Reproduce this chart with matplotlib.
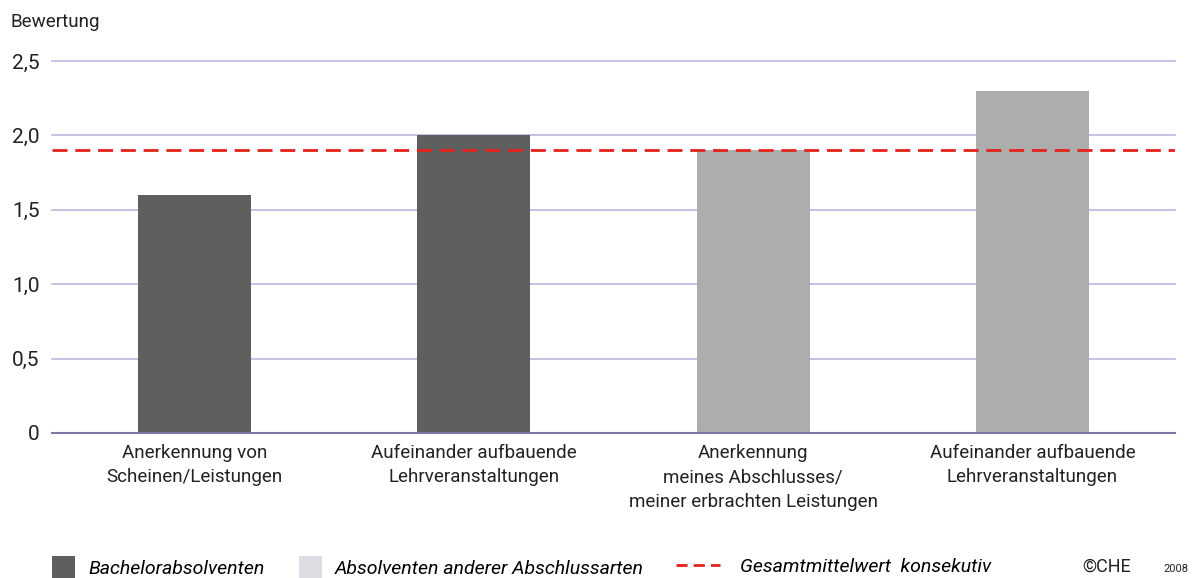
import matplotlib.pyplot as plt
from matplotlib.patches import Patch
from matplotlib.lines import Line2D

# ============================================================
# DATA
# ============================================================
categories = [
    "Anerkennung von\nScheinen/Leistungen",
    "Aufeinander aufbauende\nLehrveranstaltungen",
    "Anerkennung\nmeines Abschlusses/\nmeiner erbrachten Leistungen",
    "Aufeinander aufbauende\nLehrveranstaltungen",
]
values = [1.6, 2.0, 1.9, 2.3]
groups = ["bachelor", "bachelor", "andere", "andere"]
mean_konsekutiv = 1.9
yticks = [0, 0.5, 1.0, 1.5, 2.0, 2.5]
ytick_labels = ["0", "0,5", "1,0", "1,5", "2,0", "2,5"]
legend_labels = ["Bachelorabsolventen", "Absolventen anderer Abschlussarten",
                 "Gesamtmittelwert  konsekutiv"]

# ============================================================
# STYLE
# ============================================================
plt.rcParams["font.family"] = ["Roboto", "DejaVu Sans"]
DARK = "#5f5f5f"
LIGHT = "#adadad"
LEGEND_LIGHT = "#dcdce2"
GRID = "#b8b8de"
BASE = "#7a78a8"
RED = "#e2231a"
TEXT = "#222222"

fig = plt.figure(figsize=(11.96, 5.78), dpi=100)
ax = fig.add_axes([0.0435, 0.2509, 0.9389, 0.6436])

colors = [DARK if g == "bachelor" else LIGHT for g in groups]
x = list(range(len(values)))
ax.bar(x, values, width=0.405, color=colors, zorder=2)
ax.axhline(mean_konsekutiv, color=RED, lw=2, dashes=(5.4, 2.8), zorder=3)

ax.set_xlim(-0.51, 3.51)
ax.set_ylim(0, 2.5)
ax.set_yticks(yticks)
ax.set_yticklabels(ytick_labels, fontsize=15, color=TEXT)
ax.set_xticks(x)
ax.set_xticklabels(categories, fontsize=13.5, color=TEXT, linespacing=1.45)
ax.tick_params(axis="both", length=0)
ax.tick_params(axis="y", pad=9)
ax.tick_params(axis="x", pad=8)

for yv in yticks[1:]:
    ax.axhline(yv, color=GRID, lw=1.2, zorder=1, clip_on=False)

for s in ["top", "right", "left"]:
    ax.spines[s].set_visible(False)
ax.spines["bottom"].set_color(BASE)
ax.spines["bottom"].set_linewidth(1.5)

fig.text(0.009, 0.962, "Bewertung", fontsize=13.5, color=TEXT, va="center")

# legend: two patches, then the dashed mean line with a longer handle
patch_handles = [
    Patch(facecolor=DARK, edgecolor="none"),
    Patch(facecolor=LEGEND_LIGHT, edgecolor="none"),
]
leg1 = fig.legend(patch_handles, legend_labels[:2], loc="center left",
                  bbox_to_anchor=(0.0435, 0.019), ncol=2, frameon=False,
                  borderpad=0, borderaxespad=0, handlelength=1.2,
                  handleheight=1.3, handletextpad=0.67, columnspacing=1.75,
                  prop={"style": "italic", "size": 14})
line_handle = [Line2D([0], [0], color=RED, lw=2, dashes=(4, 2.2))]
fig.legend(line_handle, legend_labels[2:], loc="center left",
           bbox_to_anchor=(0.565, 0.019), frameon=False,
           borderpad=0, borderaxespad=0, handlelength=2.27,
           handletextpad=1.03, prop={"style": "italic", "size": 14})

fig.text(0.905, 0.019, "\u00a9CHE", fontsize=13, color=TEXT, va="center")
fig.text(0.973, 0.016, "2008", fontsize=8, color=TEXT, va="center")

fig.savefig("out.png", dpi=100, facecolor="white")
